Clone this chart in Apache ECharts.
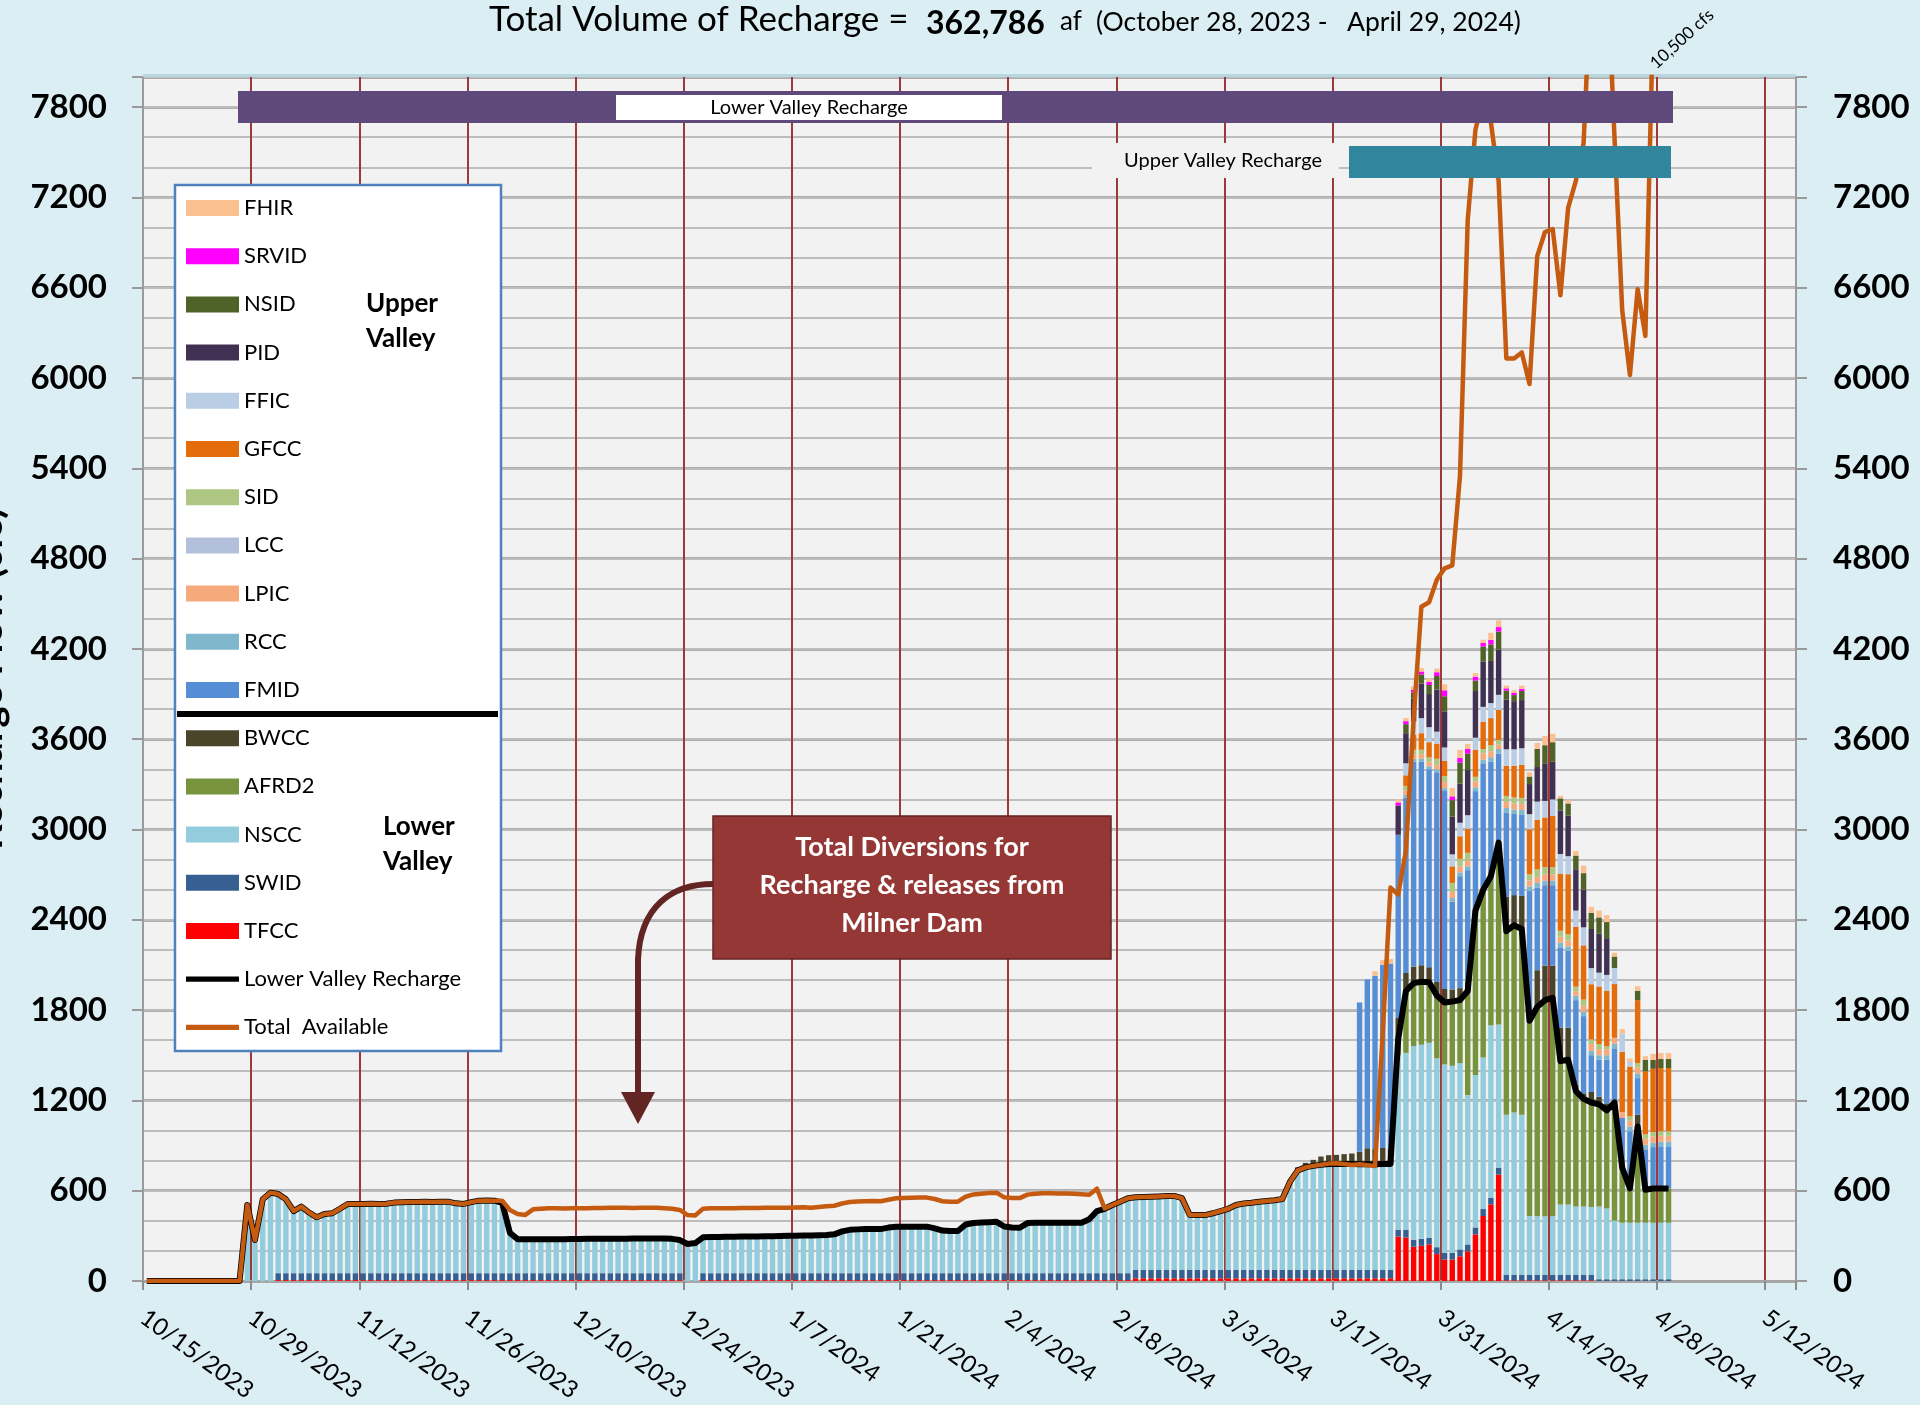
<!DOCTYPE html>
<html>
<head>
<meta charset="utf-8">
<title>Total Volume of Recharge</title>
<script src="https://cdn.jsdelivr.net/npm/echarts@6.0.0/dist/echarts.min.js"></script>
<style>
  html, body { margin: 0; padding: 0; background: #daeef3; }
  #recharge-chart { width: 1920px; height: 1405px; }
</style>
</head>
<body>
<div id="recharge-chart"></div>
<script>
/*
 * Recharge diversions, Oct 2023 - Apr 2024 (cfs per day)
 * stacked daily bars by canal + two lines
 */

// one category per day, 10/15/2023 .. 5/15/2024
const firstDay = new Date(2023, 9, 15);
const dayCount = 214;
const days = [];
for (let k = 0; k < dayCount; k++) {
    const d = new Date(firstDay.getFullYear(), firstDay.getMonth(), firstDay.getDate() + k);
    days.push((d.getMonth() + 1) + '/' + d.getDate() + '/' + d.getFullYear());
}

const tickLabels = ['10/15/2023', '10/29/2023', '11/12/2023', '11/26/2023', '12/10/2023', '12/24/2023',
    '1/7/2024', '1/21/2024', '2/4/2024', '2/18/2024', '3/3/2024', '3/17/2024', '3/31/2024',
    '4/14/2024', '4/28/2024', '5/12/2024'];

// first day of each series
const lineStart = '10/15/2023';
const lowerStart = '10/28/2023';
const bwccStart = '3/12/2024';
const upperStart = '3/20/2024';
const afrdStart = '3/25/2024';

// ---- Lower valley (from 10/28/2023) ----
const tfcc = [
    0, 0, 0, 0,
    6, 6, 6, 6, 6, 6, 6, 6, 6, 6, 6, 6, 6, 6, 6, 6, 6, 6, 6, 6, 6, 6, 6, 6, 6, 6, 6, 6, 6, 6,
    6, 6, 6, 6, 6, 6, 6, 6, 6, 6, 6, 6, 6, 6, 6, 6, 6, 6, 6, 6, 6, 6, 6, 0, 0, 6, 6, 6, 6, 6, 6,
    6, 6, 6, 6, 6, 6, 6, 6, 6, 6, 6, 6, 6, 6, 6, 6, 6, 6, 6, 6, 6, 6, 6, 6, 6, 6, 6, 6, 6, 6, 6,
    6, 6, 6, 6, 6, 6, 6, 6, 6, 6, 6, 6, 6, 6, 6, 6, 6, 6, 6, 18, 18, 18, 18, 18, 18, 18, 18, 18, 18,
    18, 18, 18, 18, 18, 18, 18, 18, 18, 18, 18, 18, 18, 18, 18, 18, 18, 18, 18, 18, 18, 18, 18, 18,
    295, 289, 228, 234, 243, 179, 143,
    143, 164, 197, 310, 432, 509, 707, 5, 5, 5, 5, 5, 5, 5, 5, 5, 5, 5, 5, 0, 0, 0, 0, 0, 0, 0, 0, 0, 0
];
const swid = [
    0, 0, 0, 0,
    46, 46, 46, 46, 46, 46, 46, 46, 46, 46, 46, 46, 46, 46, 46, 46, 46, 46, 46, 46, 46, 46, 46, 46, 46, 46, 46, 46, 46, 46,
    46, 46, 46, 46, 46, 46, 46, 46, 46, 46, 46, 46, 46, 46, 46, 46, 46, 46, 46, 46, 46, 46, 46, 0, 0, 46, 46, 46, 46, 46, 46,
    46, 46, 46, 46, 46, 46, 46, 46, 46, 46, 46, 46, 46, 46, 46, 46, 46, 46, 46, 46, 46, 46, 46, 46, 46, 46, 46, 46, 46, 46, 46,
    46, 46, 46, 46, 46, 46, 46, 46, 46, 46, 46, 46, 46, 46, 46, 46, 46, 46, 46, 55, 55, 55, 55, 55, 55, 55, 55, 55, 55,
    55, 55, 55, 55, 55, 55, 55, 55, 55, 55, 55, 55, 55, 55, 55, 55, 55, 55, 55, 55, 55, 55, 55, 55,
    46, 52, 46, 46, 43, 46, 45,
    45, 46, 46, 46, 46, 45, 46, 35, 35, 35, 35, 35, 35, 35, 35, 35, 35, 35, 35, 12, 12, 12, 12, 12, 12, 12, 12, 12, 12
];
const nscc = [
    505, 272, 543, 587,
    526, 491, 413, 442, 403, 371, 393, 398, 428, 460, 460, 460, 461, 460, 461, 469, 472, 473, 473, 474, 473, 475, 475, 464, 460, 472, 482, 483, 482, 468,
    268, 226, 225, 225, 225, 226, 226, 226, 227, 227, 228, 228, 228, 229, 229, 229, 230, 230, 230, 231, 231, 228, 220, 246, 252, 238, 240, 241, 242, 242, 243,
    244, 244, 245, 246, 247, 248, 249, 250, 251, 252, 253, 258, 278, 288, 291, 293, 293, 293, 303, 308, 309, 309, 309, 309, 298, 283, 280, 280, 323, 333, 336,
    338, 341, 310, 304, 302, 333, 335, 335, 335, 335, 335, 335, 335, 358, 413, 428, 453, 475, 498, 483, 485, 487, 489, 491, 492, 478, 367, 365, 365,
    377, 392, 407, 432, 442, 447, 454, 459, 464, 472, 587, 662, 682, 692, 699, 705, 705, 705, 704, 703, 702, 702, 704, 705,
    1159, 1175, 1287, 1290, 1297, 1254, 1251,
    1242, 1238, 992, 1013, 1007, 1145, 952, 1064, 1079, 1064, 392, 390, 391, 390, 469, 468, 455, 455, 452, 483, 470, 390,
    375, 375, 375, 375, 375, 375, 375
];
const afrd2 = [
    107, 411, 418, 418, 402, 418, 412,
    427, 418, 692, 1092, 1114, 991, 1208, 1220, 1245, 1235, 1299, 1391, 1435, 1452, 952, 962,
    767, 715, 694, 679, 652, 784, 366, 228, 640, 219, 228, 228, 228
];
const bwcc = [
    20, 30, 40, 55, 58, 60, 65, 70, 83, 107, 101, 107, 100, 140, 120, 110, 110, 100, 90, 90,
    80, 80, 60, 0, 0, 0, 0, 229, 200, 220, 0, 244, 229, 213, 222, 213, 40, 37, 70, 51, 46, 0, 0, 0, 77, 0, 0, 0, 0
];

// ---- Upper valley (from 3/20/2024) ----
const fmid = [992, 1122, 1152, 1217, 1232, 1218, 1163, 1361, 1352, 1315, 1393, 1314,
    583, 744, 743, 794, 841, 760, 592, 560, 539, 541, 861, 550, 535, 535, 534, 510, 564, 513,
    244, 245, 290, 360, 330, 380, 244, 269, 275, 280, 280];
const rcc = [0, 0, 0, 0, 0, 0, 20, 20, 20, 20, 20, 20,
    25, 25, 25, 25, 25, 30, 30, 30, 30, 30, 30, 30, 30, 30, 30, 30, 30, 30, 30, 30, 30, 30, 0, 30, 30, 30, 30, 30, 30];
const lpic = [0, 0, 0, 0, 0, 0, 30, 30, 30, 30, 30, 40,
    40, 40, 40, 40, 40, 40, 30, 40, 40, 40, 40, 40, 40, 40, 40, 40, 30, 40, 45, 40, 40, 40, 40, 40, 40, 40, 40, 40, 40];
const lcc = [0, 0, 0, 0, 0, 0, 0, 0, 0, 0, 0, 0,
    0, 0, 0, 0, 0, 0, 0, 0, 0, 0, 0, 0, 0, 0, 0, 0, 0, 0, 0, 0, 0, 0, 0, 0, 0, 0, 0, 0, 0];
const sid = [0, 0, 0, 0, 0, 0, 30, 30, 30, 30, 40, 40,
    60, 50, 50, 30, 30, 40, 30, 40, 40, 40, 40, 50, 50, 50, 40, 40, 30, 40, 30, 35, 20, 0, 0, 30, 30, 30, 30, 30, 30];
const gfcc = [0, 0, 0, 0, 0, 0, 70, 100, 110, 100, 100, 100,
    110, 150, 160, 180, 180, 180, 200, 200, 210, 220, 300, 330, 330, 340, 380, 400, 398, 360,
    367, 382, 367, 357, 400, 330, 418, 418, 420, 420, 420];
const ffic = [0, 0, 0, 0, 0, 0, 80, 90, 100, 100, 80, 90,
    80, 90, 90, 80, 100, 100, 100, 110, 110, 110, 100, 120, 110, 110, 130, 120, 107, 120,
    107, 92, 107, 107, 120, 30, 0, 0, 0, 0, 0];
const pid = [0, 0, 0, 0, 0, 195, 200, 150, 230, 220, 280, 240,
    250, 260, 300, 310, 300, 280, 300, 330, 320, 320, 200, 230, 250, 250, 290, 270, 275, 250,
    260, 260, 244, 0, 0, 0, 0, 0, 0, 0, 0];
const nsid = [0, 0, 0, 0, 0, 0, 60, 40, 60, 60, 90, 100,
    110, 140, 110, 70, 100, 110, 120, 60, 40, 60, 50, 120, 120, 130, 80, 80, 91, 110,
    107, 107, 107, 76, 0, 0, 62, 77, 60, 60, 60];
const srvid = [0, 0, 0, 0, 0, 20, 20, 20, 20, 20, 25, 40,
    25, 30, 30, 25, 25, 30, 30, 15, 15, 15, 0, 0, 0, 0, 0, 0, 0, 0,
    0, 0, 0, 0, 0, 0, 0, 0, 0, 0, 0];
const fhir = [0, 0, 30, 31, 30, 20, 20, 20, 22, 22, 24, 40,
    56, 54, 34, 24, 21, 47, 45, 18, 18, 21, 27, 40, 61, 56, 17, 21, 31, 50,
    40, 45, 46, 25, 31, 24, 30, 24, 39, 40, 40];

// ---- Lines (from 10/15/2023) ----
const lowerValleyRecharge = [
    0, 0, 0, 0, 0, 0, 0, 0, 0, 0, 0, 0, 0, 505, 272, 543, 587,
    578, 543, 465, 494, 455, 423, 445, 450, 480, 512, 512, 512, 513, 512, 513, 521, 524, 525, 525, 526, 525, 527, 527, 516, 512, 524, 534, 535, 534, 520,
    320, 278, 277, 277, 277, 278, 278, 278, 279, 279, 280, 280, 280, 281, 281, 281, 282, 282, 282, 283, 283, 280, 272, 246, 252, 290, 292, 293, 294, 294, 295,
    296, 296, 297, 298, 299, 300, 301, 302, 303, 304, 305, 310, 330, 340, 343, 345, 345, 345, 355, 360, 361, 361, 361, 361, 350, 335, 332, 332, 375, 385, 388,
    390, 393, 362, 356, 354, 385, 387, 387, 387, 387, 387, 387, 387, 410, 465, 480, 505, 527, 550, 556, 558, 560, 562, 564, 565, 551, 440, 438, 438,
    450, 465, 480, 505, 515, 520, 527, 532, 537, 545, 660, 735, 755, 765, 772, 778, 778, 778, 777, 776, 775, 775, 777, 778, 1607, 1927, 1979, 1988, 1985, 1897, 1851,
    1857, 1866, 1927, 2461, 2599, 2690, 2913, 2324, 2364, 2339, 1729, 1821, 1866, 1882, 1461, 1470, 1262, 1210, 1186, 1174, 1134, 1186, 753, 615, 1027, 606, 615, 615, 615
];
const totalAvailable = [
    0, 0, 0, 0, 0, 0, 0, 0, 0, 0, 0, 0, 0, 505, 272, 543, 587,
    578, 543, 465, 494, 455, 423, 445, 450, 480, 512, 512, 512, 513, 512, 513, 521, 524, 525, 525, 526, 525, 527, 527, 516, 512, 524, 534, 535, 534, 534,
    472, 445, 439, 476, 480, 483, 483, 482, 483, 484, 484, 485, 485, 486, 486, 486, 485, 486, 487, 487, 484, 480, 472, 438, 436, 480, 483, 483, 484, 484, 485,
    485, 485, 486, 486, 487, 487, 488, 490, 486, 492, 496, 500, 515, 525, 528, 530, 532, 530, 540, 550, 552, 553, 554, 554, 545, 530, 527, 527, 560, 575, 580,
    585, 587, 556, 551, 551, 574, 580, 583, 583, 582, 581, 580, 577, 573, 613, 483, 505, 527, 550, 556, 558, 560, 562, 564, 565, 551, 440, 438, 438,
    450, 465, 480, 505, 515, 520, 527, 532, 537, 545, 660, 735, 755, 765, 772, 780, 782, 778, 771, 776, 770, 764, 1650, 2614, 2568, 2860, 3740, 4480, 4510, 4660, 4735,
    4755, 5350, 7050, 7650, 7860, 7700, 7310, 6130, 6130, 6170, 5960, 6810, 6970, 6990, 6550, 7130, 7310, 7560, 8700, 9000, 8800, 7600, 6450, 6020, 6590, 6280, 8400, 10500, 10500
];

// put a series onto the day axis
const alignTo = (startLabel, values) => {
    const offset = days.indexOf(startLabel);
    return days.map((_, k) => (k >= offset && k - offset < values.length) ? values[k - offset] : null);
};

// stacking order, bottom to top
const stackOrder = [
    { name: 'TFCC', color: '#ff0000', start: lowerStart, values: tfcc },
    { name: 'SWID', color: '#376092', start: lowerStart, values: swid },
    { name: 'NSCC', color: '#93cddd', start: lowerStart, values: nscc },
    { name: 'AFRD2', color: '#77933c', start: afrdStart, values: afrd2 },
    { name: 'BWCC', color: '#4a452a', start: bwccStart, values: bwcc },
    { name: 'FMID', color: '#558ed5', start: upperStart, values: fmid },
    { name: 'RCC', color: '#7fb8cd', start: upperStart, values: rcc },
    { name: 'LPIC', color: '#f6aa7c', start: upperStart, values: lpic },
    { name: 'LCC', color: '#b3c0dc', start: upperStart, values: lcc },
    { name: 'SID', color: '#adc682', start: upperStart, values: sid },
    { name: 'GFCC', color: '#e46c0a', start: upperStart, values: gfcc },
    { name: 'FFIC', color: '#b9cde5', start: upperStart, values: ffic },
    { name: 'PID', color: '#403152', start: upperStart, values: pid },
    { name: 'NSID', color: '#4f6228', start: upperStart, values: nsid },
    { name: 'SRVID', color: '#ff00ff', start: upperStart, values: srvid },
    { name: 'FHIR', color: '#fac090', start: upperStart, values: fhir },
];

const legendOrder = ['FHIR', 'SRVID', 'NSID', 'PID', 'FFIC', 'GFCC', 'SID', 'LCC', 'LPIC', 'RCC', 'FMID',
    'BWCC', 'AFRD2', 'NSCC', 'SWID', 'TFCC', 'Lower Valley Recharge', 'Total  Available'];
const lineIcon = 'path://M0,0 L100,0 L100,10 L0,10 Z';

const font = 'Lato';

const chartDom = document.getElementById('recharge-chart');
const rechargeChart = echarts.init(chartDom);

const barSeries = stackOrder.map(s => ({
    name: s.name,
    type: 'bar',
    stack: 'total',
    xAxisIndex: 0,
    yAxisIndex: 0,
    barCategoryGap: '30%',
    itemStyle: { color: s.color },
    data: alignTo(s.start, s.values),
    z: 2,
}));

const yLabelStyle = {
    fontFamily: font,
    fontSize: 33,
    fontWeight: 'bold',
    color: '#000',
    formatter: v => (v % 600 === 0 ? String(v) : ''),
};

const textStyleLeft = { align: 'left', verticalAlign: 'middle', textAlign: 'left', textVerticalAlign: 'middle' };
const textStyleCenter = { align: 'center', verticalAlign: 'middle', textAlign: 'center', textVerticalAlign: 'middle' };

const option = {
    backgroundColor: '#daeef3',
    animation: false,
    grid: {
        left: 143,
        top: 77,
        width: 1653,
        height: 1204,
        show: true,
        backgroundColor: '#f2f2f2',
        borderWidth: 0,
        containLabel: false,
        outerBoundsMode: 'none',
    },
    legend: {
        orient: 'vertical',
        left: 186,
        top: 196,
        padding: 0,
        itemWidth: 53,
        itemHeight: 16,
        itemGap: 24.2,
        icon: 'rect',
        selectedMode: false,
        textStyle: { fontFamily: font, fontSize: 22, color: '#000', lineHeight: 24 },
        data: legendOrder.map(n => (n === 'Lower Valley Recharge' || n === 'Total  Available')
            ? { name: n, icon: lineIcon } : { name: n }),
        z: 6,
    },
    xAxis: [
        {
            type: 'category',
            position: 'bottom',
            offset: 0,
            data: days,
            boundaryGap: true,
            axisLine: { show: true, lineStyle: { color: '#a6a6a6', width: 3 } },
            axisTick: { show: false },
            axisLabel: { show: false },
            splitLine: { show: false },
        },
        {
            type: 'value',
            position: 'bottom',
            offset: 0,
            min: 0,
            max: dayCount,
            interval: 14,
            axisLine: { show: false },
            axisTick: { show: true, length: 9, lineStyle: { color: '#8c8c8c', width: 2 } },
            axisLabel: {
                rotate: -36,
                margin: 34,
                fontFamily: font,
                fontSize: 24,
                color: '#000',
                formatter: v => tickLabels[v / 14] || '',
            },
            splitLine: { show: true, lineStyle: { color: '#9b3a38', width: 2 } },
        },
    ],
    yAxis: [
        {
            type: 'value',
            position: 'left',
            min: 0,
            max: 8000,
            interval: 600,
            name: 'Recharge Flow (cfs)',
            nameLocation: 'middle',
            nameGap: 134,
            nameTextStyle: { fontFamily: font, fontSize: 40, fontWeight: 'bold', color: '#000' },
            axisLine: { show: true, lineStyle: { color: '#9a9a9a', width: 2 } },
            axisTick: { show: true, length: 11, lineStyle: { color: '#9a9a9a', width: 2 } },
            axisLabel: Object.assign({ margin: 36 }, yLabelStyle),
            splitLine: { show: true, lineStyle: { color: '#adadad', width: 3 } },
        },
        {
            type: 'value',
            position: 'right',
            min: 0,
            max: 8000,
            interval: 600,
            axisLine: { show: true, lineStyle: { color: '#9a9a9a', width: 2 } },
            axisTick: { show: true, length: 11, lineStyle: { color: '#9a9a9a', width: 2 } },
            axisLabel: Object.assign({ margin: 37 }, yLabelStyle),
            splitLine: { show: false },
        },
        {
            // minor gridlines every 200
            type: 'value',
            position: 'left',
            min: 0,
            max: 8000,
            interval: 200,
            axisLine: { show: false },
            axisTick: { show: false },
            axisLabel: { show: false },
            splitLine: { show: true, lineStyle: { color: '#bdbdbd', width: 2 } },
        },
    ],
    series: barSeries.concat([
        {
            name: 'Lower Valley Recharge',
            type: 'line',
            xAxisIndex: 0,
            yAxisIndex: 0,
            data: alignTo(lineStart, lowerValleyRecharge),
            symbol: 'none',
            color: '#000000',
            lineStyle: { color: '#000000', width: 6, join: 'round' },
            z: 3,
        },
        {
            name: 'Total  Available',
            type: 'line',
            xAxisIndex: 0,
            yAxisIndex: 0,
            data: alignTo(lineStart, totalAvailable),
            symbol: 'none',
            color: '#c55a11',
            lineStyle: { color: '#c55a11', width: 4.5, join: 'round' },
            z: 4,
        },
    ]),
    graphic: [
        // thin strip on top of plot area
        { type: 'rect', shape: { x: 143, y: 74, width: 1653, height: 3 }, style: { fill: '#b9d7e0' }, z: 1 },

        // title
        { type: 'text', x: 489, y: 19.5, z: 10,
          style: Object.assign({ text: 'Total Volume of Recharge =', fontFamily: font, fontSize: 35, fill: '#000' }, textStyleLeft) },
        { type: 'text', x: 926, y: 24, z: 10,
          style: Object.assign({ text: '362,786', fontFamily: font, fontSize: 32, fontWeight: 'bold', fill: '#000' }, textStyleLeft) },
        { type: 'text', x: 1060, y: 22, z: 10,
          style: Object.assign({ text: 'af', fontFamily: font, fontSize: 26, fill: '#000' }, textStyleLeft) },
        { type: 'text', x: 1096, y: 22, z: 10,
          style: Object.assign({ text: '(October 28, 2023 -', fontFamily: font, fontSize: 26.5, fill: '#000' }, textStyleLeft) },
        { type: 'text', x: 1347, y: 22, z: 10,
          style: Object.assign({ text: 'April 29, 2024)', fontFamily: font, fontSize: 26.5, fill: '#000' }, textStyleLeft) },

        // peak flow note
        { type: 'text', x: 1682, y: 39, rotation: 0.74, z: 10,
          style: Object.assign({ text: '10,500 cfs', fontFamily: font, fontSize: 17, fill: '#000' }, textStyleCenter) },

        // recharge period banners
        { type: 'rect', shape: { x: 238, y: 91, width: 1435, height: 32 }, style: { fill: '#5f497a' }, z: 10 },
        { type: 'rect', shape: { x: 616, y: 95, width: 386, height: 25 }, style: { fill: '#ffffff' }, z: 11 },
        { type: 'text', x: 809, y: 108, z: 12,
          style: Object.assign({ text: 'Lower Valley Recharge', fontFamily: font, fontSize: 20, fill: '#000' }, textStyleCenter) },
        { type: 'rect', shape: { x: 1092, y: 143, width: 247, height: 35 }, style: { fill: '#f2f2f2' }, z: 10 },
        { type: 'text', x: 1223, y: 161, z: 12,
          style: Object.assign({ text: 'Upper Valley Recharge', fontFamily: font, fontSize: 20, fill: '#000' }, textStyleCenter) },
        { type: 'rect', shape: { x: 1349, y: 146, width: 322, height: 32 }, style: { fill: '#31859c' }, z: 10 },

        // legend box
        { type: 'rect', shape: { x: 175, y: 185, width: 326, height: 866 },
          style: { fill: '#ffffff', stroke: '#4f81bd', lineWidth: 2.5 }, z: 3 },
        { type: 'line', shape: { x1: 177, y1: 714, x2: 498, y2: 714 },
          style: { stroke: '#000000', lineWidth: 6 }, z: 7 },
        { type: 'text', x: 366, y: 321, z: 7,
          style: Object.assign({ text: 'Upper\nValley', fontFamily: font, fontSize: 26, fontWeight: 'bold', fill: '#000', lineHeight: 35 }, textStyleLeft) },
        { type: 'text', x: 383, y: 844, z: 7,
          style: Object.assign({ text: 'Lower\nValley', fontFamily: font, fontSize: 26, fontWeight: 'bold', fill: '#000', lineHeight: 35 }, textStyleLeft) },

        // callout box + arrow
        { type: 'rect', shape: { x: 713, y: 816, width: 398, height: 143 },
          style: { fill: '#953735', stroke: '#632523', lineWidth: 1.5 }, z: 10 },
        { type: 'text', x: 912, y: 885, z: 11,
          style: Object.assign({ text: 'Total Diversions for\nRecharge & releases from\nMilner Dam', fontFamily: font, fontSize: 27,
                   fontWeight: 'bold', fill: '#ffffff', lineHeight: 38 }, textStyleCenter) },
        { type: 'bezierCurve', shape: { x1: 713, y1: 884, cpx1: 672, cpy1: 884, cpx2: 640, cpy2: 906, x2: 638, y2: 960 },
          style: { stroke: '#632523', lineWidth: 6, fill: null }, z: 10 },
        { type: 'line', shape: { x1: 638, y1: 958, x2: 638, y2: 1096 },
          style: { stroke: '#632523', lineWidth: 6 }, z: 10 },
        { type: 'polygon', shape: { points: [[621, 1092], [655, 1092], [638, 1124]] },
          style: { fill: '#632523' }, z: 10 },
    ],
};

rechargeChart.setOption(option);
</script>
</body>
</html>
